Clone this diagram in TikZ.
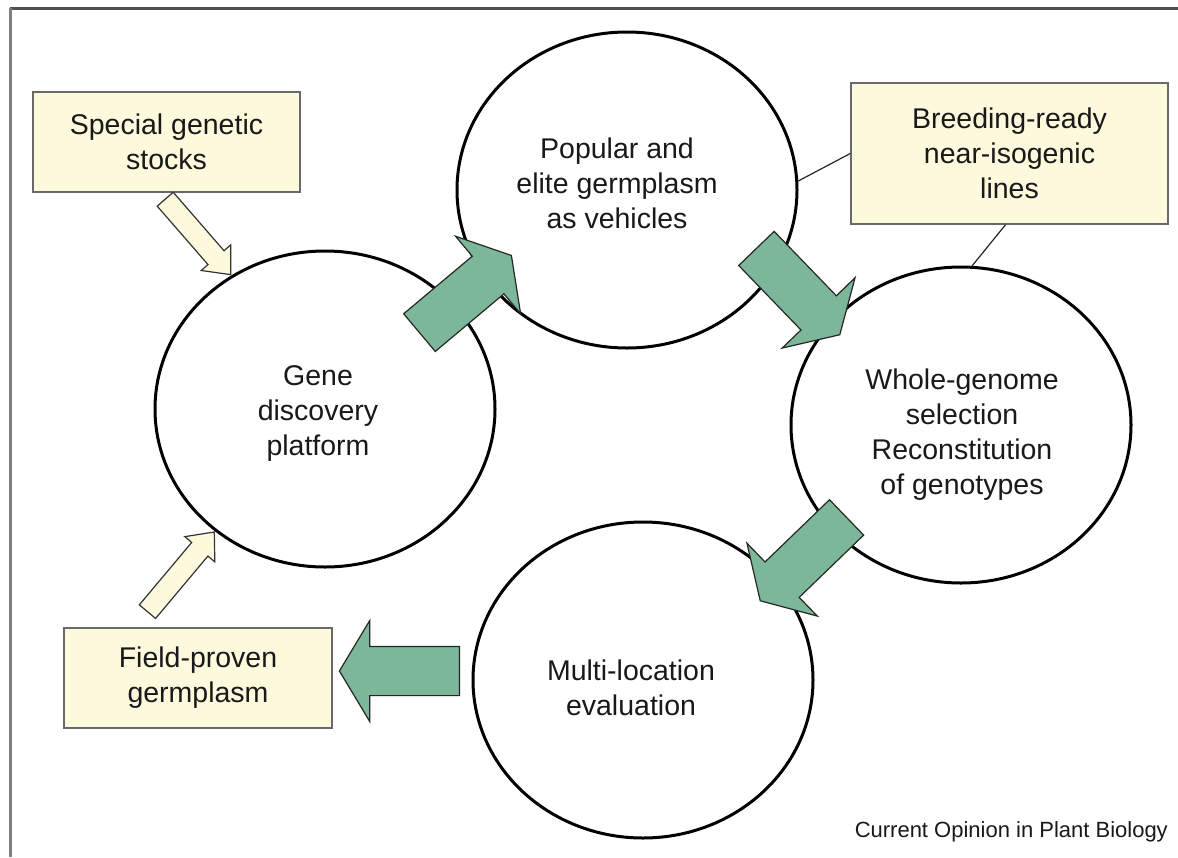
\documentclass[tikz,border=0pt]{standalone}
\usepackage{fontspec}
\setmainfont{Liberation Sans}
\usetikzlibrary{shapes.geometric,shapes.arrows,calc}
\definecolor{boxfill}{RGB}{253,249,220}
\definecolor{boxline}{RGB}{105,105,105}
\definecolor{arrowgreen}{RGB}{123,183,152}
\definecolor{framegray}{RGB}{80,80,80}
\definecolor{inkgray}{RGB}{25,25,25}
\begin{document}
\begin{tikzpicture}[x=1pt,y=-1pt,
  font=\fontsize{28.5}{35}\selectfont,
  stage/.style={ellipse, draw=black, line width=3pt, fill=white,
    minimum width=340pt, minimum height=316pt, inner sep=0pt},
  stagetext/.style={align=center, text=inkgray, inner sep=0pt},
  source/.style={rectangle, draw=boxline, fill=boxfill, line width=1.5pt,
    align=center, inner sep=0pt, text=inkgray},
  garrow/.style={single arrow, draw=black!85, line width=1.2pt, fill=arrowgreen,
    inner xsep=0pt, inner ysep=24pt, minimum height=120pt,
    single arrow head extend=26pt, single arrow tip angle=118},
  yarrow/.style={single arrow, draw=black!80, line width=1.2pt, fill=boxfill,
    inner xsep=0pt, inner ysep=10pt, minimum height=100pt,
    single arrow head extend=9pt, single arrow tip angle=82},
  link/.style={draw=black!85, line width=1.2pt}
]
\useasboundingbox (0,0) rectangle (1178,857);
\fill[white] (0,0) rectangle (1178,857);

% frame
\draw[framegray, line width=3pt] (10,8) -- (1178,8);
\draw[gray, line width=2.5pt] (10.5,8) -- (10.5,857);

% the four stages of the cycle
\node[stage] (gene)  at (325,409) {};
\node[stage] (pop)   at (627,190) {};
\node[stage] (whole) at (961,425) {};
\node[stage] (multi) at (643,680) {};

\node[stagetext] (geneT)  at (318,413) {Gene\\discovery\\platform};
\node[stagetext] (popT)   at (617,183) {Popular and\\elite germplasm\\as vehicles};
\node[stagetext] (wholeT) at (962,435) {Whole-genome\\selection\\Reconstitution\\of genotypes};
\node[stagetext] (multiT) at (631,688) {Multi-location\\evaluation};

% resources feeding in and coming out
\node[source, minimum width=267pt, minimum height=100pt] (stocks) at (166.5,142) {Special genetic\\stocks};
\node[source, minimum width=317pt, minimum height=141pt] (lines) at (1009.5,153.5) {Breeding-ready\\near-isogenic\\lines};
\node[source, minimum width=268pt, minimum height=100pt] (field) at (198,678) {Field-proven\\germplasm};

% callout lines
\draw[link] (lines.west) -- (pop.3);
\draw[link] ([xshift=-4pt]lines.south) -- (whole.86);

% cycle arrows
\node[garrow, rotate=40,   anchor=tail] (a1) at (419,333) {};
\node[garrow, rotate=-46,  anchor=tail] (a2) at (756,248) {};
\node[garrow, rotate=-136, anchor=tail] (a3) at (847,517) {};
\node[garrow, rotate=180,  anchor=tail] (a4) at (460,671) {};

% input arrows
\node[yarrow, rotate=-49, anchor=tip] (y1) at (gene.125) {};
\node[yarrow, rotate=50,  anchor=tip, minimum height=104pt] (y2) at (gene.228) {};

% credit line
\node[anchor=east, inner sep=0pt, text=inkgray, font=\fontsize{22}{26}\selectfont] (credit) at (1168,832) {Current Opinion in Plant Biology};
\end{tikzpicture}
\end{document}
